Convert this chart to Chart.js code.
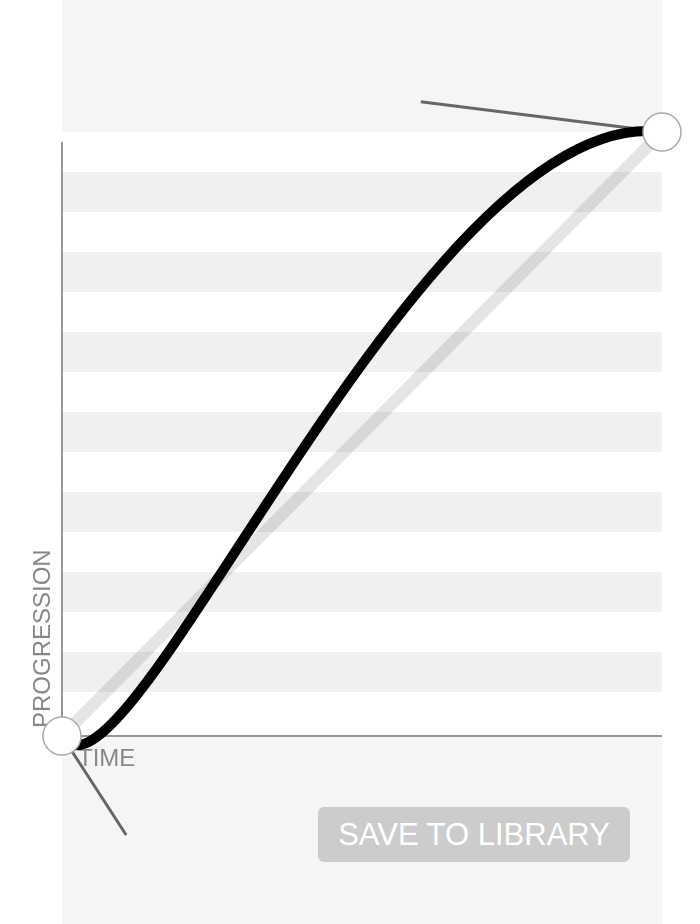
<!DOCTYPE html>
<html><head><meta charset="utf-8">
<script src="https://cdn.jsdelivr.net/npm/chart.js@4/dist/chart.umd.min.js"></script>
<style>html,body{margin:0;padding:0;background:#fff}#w{position:relative;width:700px;height:924px}
#btn{position:absolute;left:318px;top:807px;width:312px;height:55px;background:#cccccc;border-radius:6px;color:#fff;font:31px "Liberation Sans",Arial,sans-serif;display:flex;align-items:center;justify-content:center}
</style></head><body><div id="w"><canvas id="c" width="700" height="924"></canvas><div id="btn">SAVE TO LIBRARY</div></div>
<script>
const startPoint=[0,0];
const endPoint=[1,1];
const control1=[0.107,-0.164];
const control2=[0.598,1.05];
const stripeCount=15;

const bg={id:'bg',beforeDraw(ch){const c=ch.ctx,a=ch.chartArea;c.save();
c.fillStyle='#f5f5f5';c.fillRect(a.left,0,a.right-a.left,ch.height);
c.fillStyle='#fff';c.fillRect(a.left,a.top,a.right-a.left,a.bottom-a.top);
const h=(a.bottom-a.top-4)/stripeCount;c.fillStyle='#f0f0f0';
for(let i=1;i<stripeCount;i+=2)c.fillRect(a.left,a.top+i*h,a.right-a.left,h);
c.strokeStyle='#777';c.lineWidth=1.5;c.beginPath();c.moveTo(a.left,a.top+10);c.lineTo(a.left,a.bottom);c.lineTo(a.right,a.bottom);c.stroke();
c.fillStyle='#888';c.font='24px "Liberation Sans",Arial,sans-serif';c.fillText('TIME',78,766);
c.translate(50,728);c.rotate(-Math.PI/2);c.fillText('PROGRESSION',0,0);c.restore();}};
function drawCurve(ch){const x=ch.scales.x,y=ch.scales.y,c=ch.ctx;
c.save();c.strokeStyle='#000';c.lineWidth=10;c.lineCap='round';c.beginPath();
c.moveTo(x.getPixelForValue(startPoint[0]),y.getPixelForValue(startPoint[1]));
c.bezierCurveTo(x.getPixelForValue(control1[0]),y.getPixelForValue(control1[1]),x.getPixelForValue(control2[0]),y.getPixelForValue(control2[1]),x.getPixelForValue(endPoint[0]),y.getPixelForValue(endPoint[1]));
c.stroke();c.restore();}
const P=a=>({x:a[0],y:a[1]});
new Chart(document.getElementById('c'),{type:'scatter',
data:{datasets:[
{data:[P(startPoint),P(endPoint)],showLine:true,borderColor:'rgba(0,0,0,0.1)',borderWidth:12,pointRadius:0,order:5,clip:false},
{data:[P(startPoint),P(control1)],showLine:true,borderColor:'#666',borderWidth:3,pointRadius:0,order:4,clip:false},
{data:[P(endPoint),P(control2)],showLine:true,borderColor:'#666',borderWidth:3,pointRadius:0,order:4,clip:false},
{data:[P(control1)],pointRadius:18,pointBackgroundColor:'#e8338b',pointBorderColor:'#a81f60',pointBorderWidth:1.5,order:1,clip:false},
{data:[P(control2)],pointRadius:18,pointBackgroundColor:'#47a2b3',pointBorderColor:'#2c7583',pointBorderWidth:1.5,order:1,clip:false},
{data:[P(startPoint),P(endPoint)],pointRadius:19,pointBackgroundColor:'#fff',pointBorderColor:'#aaa',pointBorderWidth:1.5,order:0,clip:false}
]},
options:{responsive:false,animation:false,events:[],
layout:{padding:{left:62,right:38,top:132,bottom:188}},
plugins:{legend:{display:false},tooltip:{enabled:false}},
scales:{x:{type:'linear',min:0,max:1,display:false},y:{type:'linear',min:0,max:1,display:false}}},
plugins:[bg,{id:'curve2',beforeDatasetDraw(ch,args){if(args.index===3)drawCurve(ch);}}]});
</script></body></html>
